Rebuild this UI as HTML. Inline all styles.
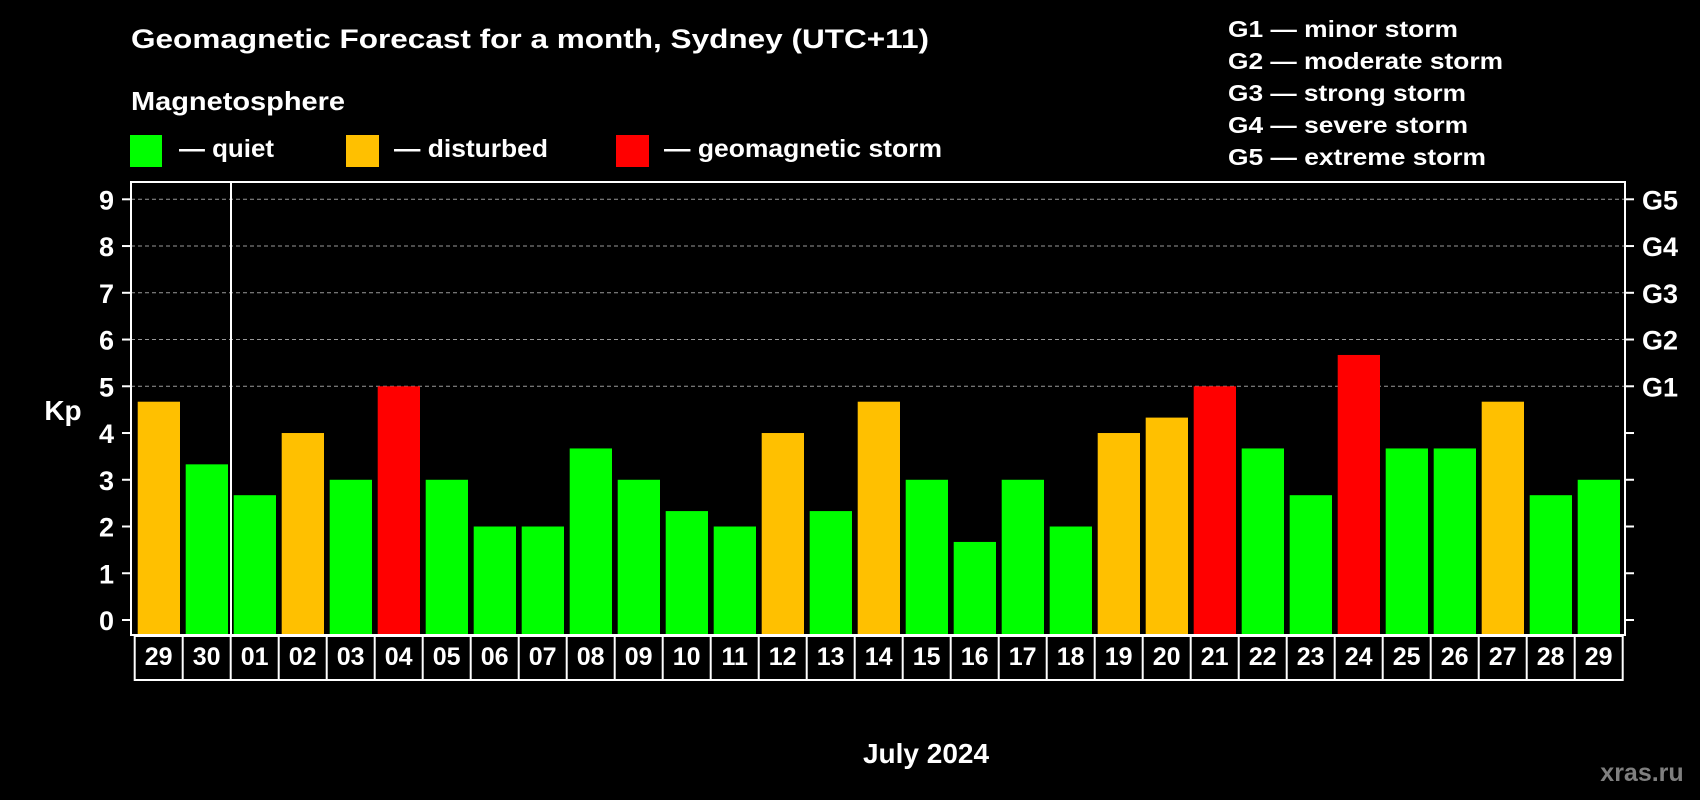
<!DOCTYPE html>
<html><head><meta charset="utf-8"><style>
html,body{margin:0;padding:0;background:#000;}
svg{display:block;font-family:"Liberation Sans",sans-serif;font-weight:bold;}
</style></head><body>
<svg id="chart" width="1700" height="800" viewBox="0 0 1700 800" xmlns="http://www.w3.org/2000/svg">
<rect width="1700" height="800" fill="#000"/>
<text x="131" y="48" fill="#fff" font-size="27" textLength="798" lengthAdjust="spacingAndGlyphs">Geomagnetic Forecast for a month, Sydney (UTC+11)</text>
<text x="131" y="110" fill="#fff" font-size="26" textLength="214" lengthAdjust="spacingAndGlyphs">Magnetosphere</text>
<g>
<rect x="130" y="135" width="32" height="32" fill="#00ff00"/>
<text x="179" y="157" fill="#fff" font-size="25" textLength="95" lengthAdjust="spacingAndGlyphs">— quiet</text></g>
<g>
<rect x="346" y="135" width="33" height="32" fill="#ffc000"/>
<text x="394" y="157" fill="#fff" font-size="25" textLength="154" lengthAdjust="spacingAndGlyphs">— disturbed</text></g>
<g>
<rect x="616" y="135" width="33" height="32" fill="#ff0000"/>
<text x="664" y="157" fill="#fff" font-size="25" textLength="278" lengthAdjust="spacingAndGlyphs">— geomagnetic storm</text></g>
<g fill="#fff" font-size="23">
<text x="1228" y="37" textLength="230" lengthAdjust="spacingAndGlyphs">G1 — minor storm</text>
<text x="1228" y="69" textLength="275" lengthAdjust="spacingAndGlyphs">G2 — moderate storm</text>
<text x="1228" y="101" textLength="238" lengthAdjust="spacingAndGlyphs">G3 — strong storm</text>
<text x="1228" y="133" textLength="240" lengthAdjust="spacingAndGlyphs">G4 — severe storm</text>
<text x="1228" y="165" textLength="258" lengthAdjust="spacingAndGlyphs">G5 — extreme storm</text>
</g>
<g id="grid"></g>
<g id="bars"></g>
<g id="axes"></g>
<text x="63" y="420" fill="#fff" font-size="28" text-anchor="middle">Kp</text>
<text x="926" y="763" fill="#fff" font-size="28" text-anchor="middle">July 2024</text>
<text x="1642" y="781" fill="#7f7f7f" font-size="25" text-anchor="middle">xras.ru</text>
</svg>
<script>
const days = ["29","30","01","02","03","04","05","06","07","08","09","10","11","12","13","14","15","16","17","18","19","20","21","22","23","24","25","26","27","28","29"];
const kpValues = [4.67,3.33,2.67,4,3,5,3,2,2,3.67,3,2.33,2,4,2.33,4.67,3,1.67,3,2,4,4.33,5,3.67,2.67,5.67,3.67,3.67,4.67,2.67,3];
const yTicks = [0,1,2,3,4,5,6,7,8,9];
const gLabels = ["G1","G2","G3","G4","G5"];
const gLevels = [5,6,7,8,9];

const NS="http://www.w3.org/2000/svg";
const plotLeft=131, plotRight=1625, plotTop=182, plotBottom=635;
const y0=620, unit=(620-199.3)/9;
const step=48, barX0=137.7, barW=42.3;
function yScale(v){return y0 - v*unit;}
function xScale(i){return barX0 + i*step;}
function colorFor(v){return v>=5?"#ff0000":(v>=4?"#ffc000":"#00ff00");}
function mk(tag,attrs,parent){const e=document.createElementNS(NS,tag);for(const k in attrs)e.setAttribute(k,attrs[k]);parent.appendChild(e);return e;}

const grid=document.getElementById('grid');
gLevels.forEach(v=>{
  const l=mk('line',{x1:plotLeft,x2:plotRight,y1:yScale(v),y2:yScale(v),stroke:'#999','stroke-width':1,'stroke-dasharray':'4,3'},grid);
  
  
});

const bars=document.getElementById('bars');
kpValues.forEach((v,i)=>{
  const r=mk('rect',{x:xScale(i),y:yScale(v),width:barW,height:plotBottom-yScale(v),fill:colorFor(v)},bars);
  
  
});

const axes=document.getElementById('axes');
mk('rect',{x:plotLeft,y:plotTop,width:plotRight-plotLeft,height:plotBottom-plotTop,fill:'none',stroke:'#fff','stroke-width':2},axes);
mk('line',{x1:231,x2:231,y1:plotTop,y2:plotBottom,stroke:'#fff','stroke-width':2},axes);
yTicks.forEach(v=>{
  const y=yScale(v);
  mk('line',{x1:122,x2:plotLeft,y1:y,y2:y,stroke:'#fff','stroke-width':2},axes);
  mk('line',{x1:plotRight,x2:1634,y1:y,y2:y,stroke:'#fff','stroke-width':2},axes);
  const t=mk('text',{x:114,y:y+10,fill:'#fff','font-size':27,'text-anchor':'end'},axes);
  t.textContent=v;
  
  
});
gLabels.forEach((g,i)=>{
  const t=mk('text',{x:1642,y:yScale(gLevels[i])+10,fill:'#fff','font-size':27},axes);
  t.textContent=g;
  
  
});
const boxL=134.7;
mk('rect',{x:boxL,y:636,width:days.length*step,height:44,fill:'none',stroke:'#fff','stroke-width':2},axes);
days.forEach((d,i)=>{
  const bx=boxL+i*step;
  if(i>0) mk('line',{x1:bx,x2:bx,y1:636,y2:680,stroke:'#fff','stroke-width':2},axes);
  const t=mk('text',{x:bx+step/2,y:665,fill:'#fff','font-size':25,'text-anchor':'middle'},axes);
  t.textContent=d;
  
  
});
</script>
</body></html>
